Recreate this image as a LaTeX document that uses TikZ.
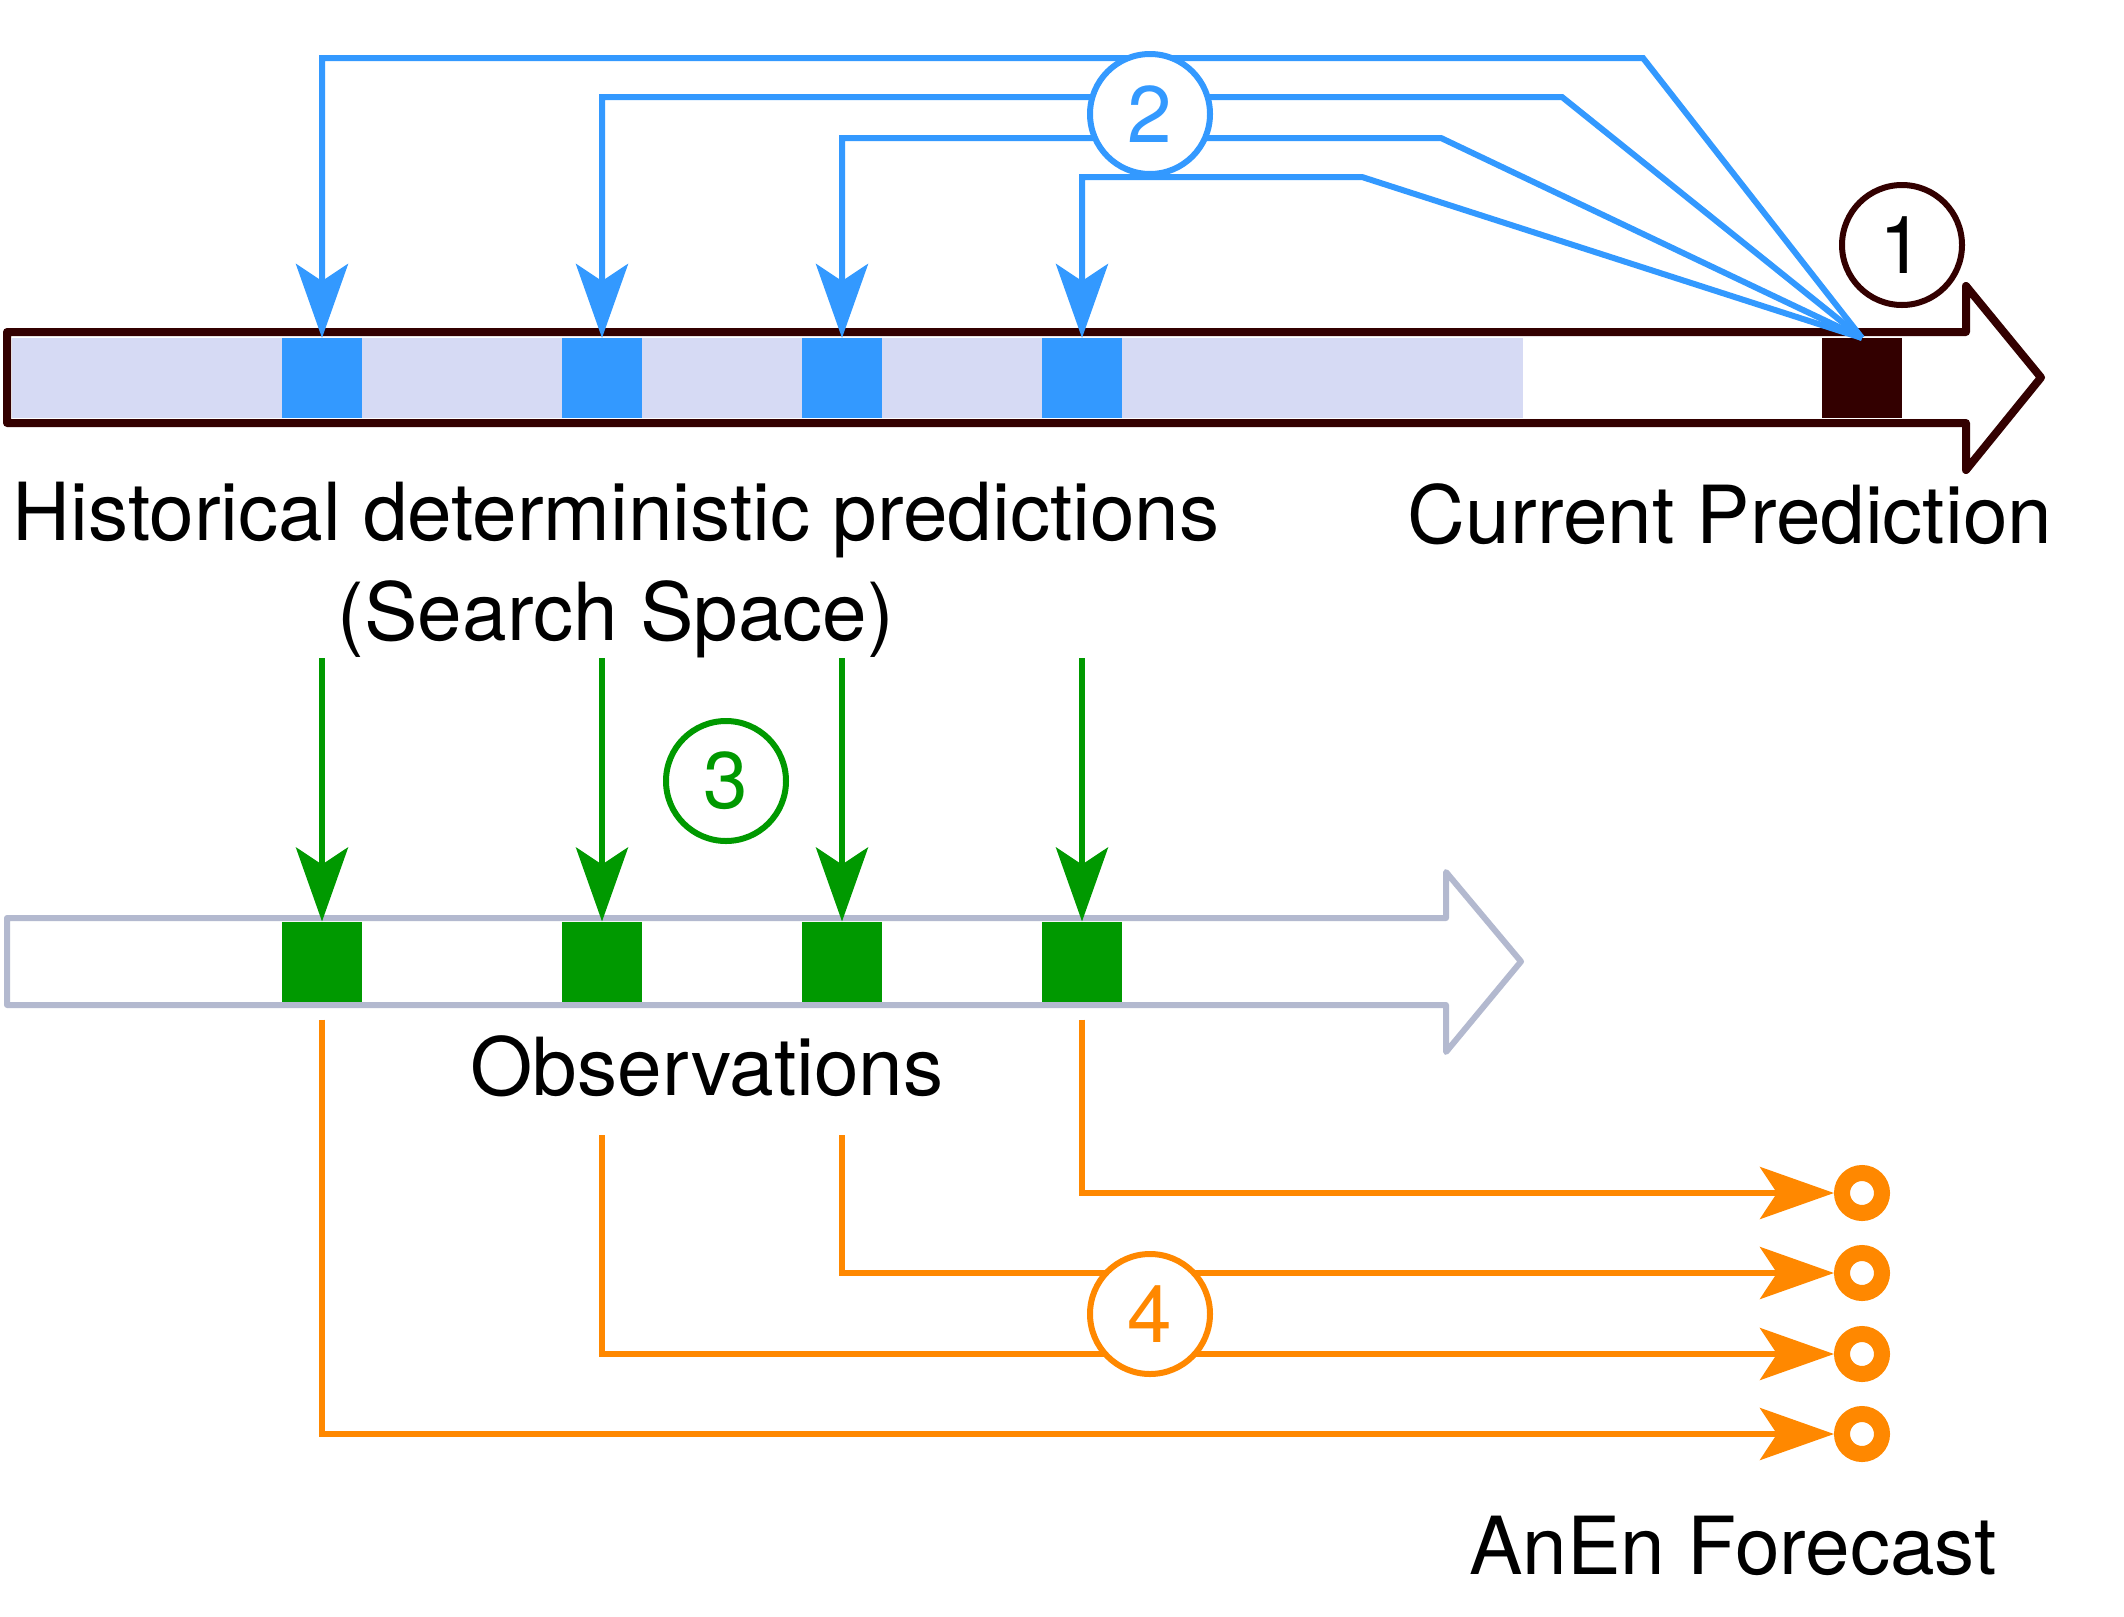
\documentclass[tikz,border=0pt]{standalone}
\usepackage{fontspec}
\setmainfont{TeX Gyre Heros}
\usepackage{tikz}
\usetikzlibrary{arrows.meta,positioning}
\usetikzlibrary{calc}

\definecolor{histblue}{RGB}{51,153,255}
\definecolor{histfill}{RGB}{214,218,244}
\definecolor{curdark}{RGB}{51,0,0}
\definecolor{obsgreen}{RGB}{0,153,0}
\definecolor{obsgray}{RGB}{179,185,207}
\definecolor{anenorange}{RGB}{255,136,0}

\begin{document}
\begin{tikzpicture}[
  font=\fontsize{22.8pt}{28.4pt}\selectfont,
  cell/.style={minimum width=8mm, minimum height=8mm, inner sep=0pt, outer sep=0pt},
  num/.style={circle, draw, line width=0.6mm, fill=white, minimum size=12mm, inner sep=0pt},
  tip/.style={-{Stealth[length=7.4mm, width=5.2mm, inset=1.7mm]}, line width=0.6mm},
  ring/.style={circle, draw=anenorange, line width=1.6mm, fill=white, minimum size=4mm, inner sep=0pt}
]
  \useasboundingbox (0,0) rectangle (21.24,-16.16);

  % prediction time line
  \draw[curdark, line width=0.8mm, line join=round, fill=white]
    (0.07,-3.32) -- (19.66,-3.32) -- (19.66,-2.86) -- (20.41,-3.775)
    -- (19.66,-4.70) -- (19.66,-4.23) -- (0.07,-4.23) -- cycle;
  \fill[histfill] (0.12,-3.38) rectangle (15.23,-4.18);

  \node[cell, fill=histblue] (h1) at (3.22,-3.78) {};
  \node[cell, fill=histblue] (h2) at (6.02,-3.78) {};
  \node[cell, fill=histblue] (h3) at (8.42,-3.78) {};
  \node[cell, fill=histblue] (h4) at (10.82,-3.78) {};
  \node[cell, fill=curdark] (cur) at (18.62,-3.78) {};

  % observation time line
  \draw[obsgray, line width=0.6mm, line join=round, fill=white]
    (0.07,-9.18) -- (14.46,-9.18) -- (14.46,-8.72) -- (15.21,-9.615)
    -- (14.46,-10.52) -- (14.46,-10.05) -- (0.07,-10.05) -- cycle;

  \node[cell, fill=obsgreen] (o1) at (3.22,-9.615) {};
  \node[cell, fill=obsgreen] (o2) at (6.02,-9.615) {};
  \node[cell, fill=obsgreen] (o3) at (8.42,-9.615) {};
  \node[cell, fill=obsgreen] (o4) at (10.82,-9.615) {};

  % labels
  \node[anchor=base, align=center] (hist) at (6.16,-6.40) {Historical deterministic predictions\\(Search Space)};
  \node[anchor=base] (curlab) at (17.30,-5.43) {Current Prediction};
  \node[anchor=base] (obslab) at (7.07,-10.95) {Observations};
  \node[anchor=base] (anenlab) at (17.33,-15.74) {AnEn Forecast};

  % 2: search
  \draw[tip, histblue] (cur.north) -- (16.43,-0.58) -- (h1.north |- 0,-0.58) -- (h1.north);
  \draw[tip, histblue] (cur.north) -- (15.62,-0.97) -- (h2.north |- 0,-0.97) -- (h2.north);
  \draw[tip, histblue] (cur.north) -- (14.41,-1.38) -- (h3.north |- 0,-1.38) -- (h3.north);
  \draw[tip, histblue] (cur.north) -- (13.62,-1.77) -- (h4.north |- 0,-1.77) -- (h4.north);

  % 3: matching observations
  \draw[tip, obsgreen] (o1.north |- 0,-6.58) -- (o1.north);
  \draw[tip, obsgreen] (o2.north |- 0,-6.58) -- (o2.north);
  \draw[tip, obsgreen] (o3.north |- 0,-6.58) -- (o3.north);
  \draw[tip, obsgreen] (o4.north |- 0,-6.58) -- (o4.north);

  % 4: ensemble members
  \node[ring] (f1) at (18.62,-11.93) {};
  \node[ring] (f2) at (18.62,-12.73) {};
  \node[ring] (f3) at (18.62,-13.54) {};
  \node[ring] (f4) at (18.62,-14.34) {};

  \draw[tip, anenorange] ($(o4.south)+(0,-0.18)$) |- (f1.west);
  \draw[tip, anenorange] (o3.south |- 0,-11.35) |- (f2.west);
  \draw[tip, anenorange] (o2.south |- 0,-11.35) |- (f3.west);
  \draw[tip, anenorange] ($(o1.south)+(0,-0.18)$) |- (f4.west);

  % step numbers
  \node[num, draw=curdark] (s1) at (19.02,-2.45) {1};
  \node[num, draw=histblue, text=histblue] (s2) at (11.50,-1.14) {2};
  \node[num, draw=obsgreen, text=obsgreen] (s3) at (7.26,-7.81) {3};
  \node[num, draw=anenorange, text=anenorange] (s4) at (11.50,-13.14) {4};
\end{tikzpicture}
\end{document}
